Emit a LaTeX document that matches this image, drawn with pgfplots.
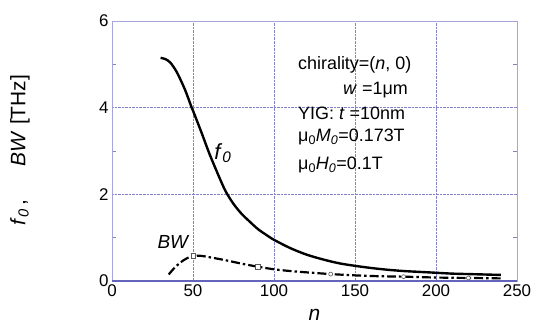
\documentclass[border=0pt]{standalone}
\usepackage{pgfplots}
\pgfplotsset{compat=1.18}
\usepackage{fontspec}
\setmainfont{Liberation Sans}
\definecolor{framec}{RGB}{165,165,218}
\definecolor{gridc}{RGB}{130,130,200}
\definecolor{basec}{RGB}{100,100,190}
\begin{document}
\begin{tikzpicture}
\path[use as bounding box] (0,0) rectangle (534bp,326bp);
\begin{axis}[
 at={(112bp,45bp)}, anchor=south west,
 scale only axis, width=405bp, height=260bp,
 xmin=0, xmax=250, ymin=0, ymax=6,
 xtick={0,50,...,250}, ytick={0,2,4,6},
 minor ytick={1,3,5},
 grid=major, major grid style={densely dotted, gridc, line width=0.6pt},
 axis line style={framec, line width=1pt},
 tick style={framec!80!black, line width=0.8pt},
 major tick length=0pt, minor tick length=4bp,
 tick align=inside,
 tick label style={font=\fontsize{17}{17}\selectfont},
 /pgf/number format/assume math mode=true,
 xlabel={\textit{n}},
 xlabel style={font=\fontsize{21}{21}\selectfont, at={(axis description cs:0.5,0)}, anchor=center, yshift=-34bp},
 ylabel={\textit{f}\textsubscript{\textit{0}}\,,\hspace{1.6em}\textit{BW} [THz]},
 ylabel style={font=\fontsize{21}{21}\selectfont, at={(axis description cs:0,0.5)}, anchor=center, yshift=92bp, xshift=1bp},
 clip=false,
]
\draw[basec, line width=1.6pt] (rel axis cs:0,0) -- (rel axis cs:1,0);
\addplot[black, line width=2.4pt, smooth] coordinates {
(30,5.15) (33,5.12) (36,5.04) (40,4.82) (45,4.42) (49,4.02) (50,3.93) (55,3.45) (60,2.95) (65,2.5) (70,2.08) (75,1.78) (80,1.55) (85,1.37) (90,1.2) (95,1.07) (100,0.95) (110,0.76) (120,0.61) (130,0.5) (140,0.41) (150,0.35) (160,0.3) (170,0.26) (180,0.23) (190,0.21) (200,0.19) (210,0.17) (220,0.16) (230,0.15) (240,0.14)
};
\addplot[black, line width=2.2pt, smooth, dash pattern=on 9pt off 3pt on 2.5pt off 3pt] coordinates {
(35,0.15) (38,0.28) (42,0.42) (46,0.52) (50,0.58) (55,0.58) (60,0.55) (70,0.48) (80,0.4) (90,0.33) (100,0.27) (110,0.23) (120,0.2) (135,0.16) (150,0.13) (165,0.11) (180,0.1) (200,0.08) (220,0.07) (240,0.06)
};
\addplot[only marks, mark=square*, mark size=2.2pt, mark options={fill=white, draw=gray!70!black, line width=0.6pt}] coordinates {(50,0.58) (90,0.33)};
\addplot[only marks, mark=*, mark size=2pt, mark options={fill=white, draw=gray!70!black, line width=0.6pt}] coordinates {(135,0.16) (180,0.1) (220,0.07)};
\node[anchor=west, font=\fontsize{22}{22}\selectfont] at (axis cs:61,2.95) {\textit{f}\textsubscript{\textit{0}}};
\node[anchor=center, font=\fontsize{19}{19}\selectfont] at (axis cs:38,0.9) {\textit{BW}};
\begin{scope}[every node/.style={anchor=west, font=\fontsize{18}{18}\selectfont, inner sep=0pt}]
\node at (axis cs:114.8,4.98) {chirality=(\textit{n}, 0)};
\node at (axis cs:142.6,4.41) {\textit{w} =1μm};
\node at (axis cs:114.8,3.88) {YIG: \textit{t} =10nm};
\node at (axis cs:114.8,3.32) {μ\textsubscript{0}\textit{M}\textsubscript{\textit{0}}=0.173T};
\node at (axis cs:114.8,2.68) {μ\textsubscript{0}\textit{H}\textsubscript{\textit{0}}=0.1T};
\end{scope}
\end{axis}
\end{tikzpicture}
\end{document}
